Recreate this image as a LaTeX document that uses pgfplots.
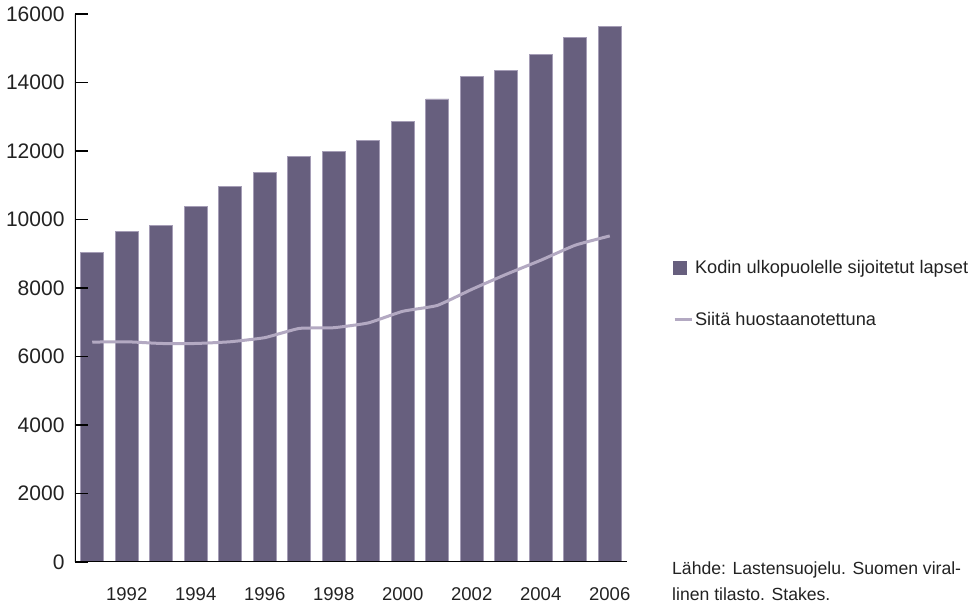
\documentclass[border=0pt]{standalone}
\usepackage{fontspec}
\setmainfont{Liberation Sans}
\usepackage{pgfplots}
\pgfplotsset{compat=1.18}

\definecolor{barcol}{HTML}{675F7E}
\definecolor{baredge}{HTML}{A59DB6}
\definecolor{linecol}{HTML}{B3A9C2}
\definecolor{txt}{HTML}{222222}

\begin{document}
\begin{tikzpicture}
\begin{axis}[
    scale only axis,
    width=552pt, height=548pt,
    xmin=1990.5, xmax=2006.5,
    ymin=0, ymax=16000,
    axis on top,
    axis line style={draw=none},
    xtick={1992,1994,...,2006},
    ytick={0,2000,...,16000},
    ytick pos=left,
    xtick style={draw=none},
    ytick style={line width=1.6pt, black},
    tick align=inside,
    major tick length=13pt,
    /pgf/number format/1000 sep={},
    /pgf/number format/assume math mode=true,
    scaled y ticks=false,
    yticklabel style={font=\fontsize{21}{22}\selectfont, text=txt, xshift=-7pt},
    xticklabel style={font=\fontsize{18.5}{20}\selectfont, text=txt, yshift=-22pt},
    legend cell align=left,
    legend style={draw=none, fill=none, at={(1.083,0.554)}, anchor=north west,
        font=\fontsize{18.2}{20}\selectfont, text=txt,
        row sep=33pt, inner sep=0pt},
]
\addplot[ybar, bar width=23pt, fill=barcol, draw=baredge, line width=0.6pt,
    legend image code/.code={\fill[barcol] (0pt,-6.5pt) rectangle (13pt,6.5pt);}]
    table[row sep=\\] {
    x y \\
    1991 9030 \\
    1992 9650 \\
    1993 9825 \\
    1994 10380 \\
    1995 10960 \\
    1996 11380 \\
    1997 11840 \\
    1998 11985 \\
    1999 12300 \\
    2000 12860 \\
    2001 13520 \\
    2002 14175 \\
    2003 14360 \\
    2004 14820 \\
    2005 15310 \\
    2006 15635 \\
    };
\addlegendentry{Kodin ulkopuolelle sijoitetut lapset}
\addplot[linecol, line width=3pt, line join=round, smooth, tension=0.25,
    legend image code/.code={\draw[linecol, line width=3pt] (1pt,0pt) -- (18pt,0pt);}]
    table[row sep=\\] {
    x y \\
    1991 6420 \\
    1992 6430 \\
    1993 6380 \\
    1994 6380 \\
    1995 6430 \\
    1996 6550 \\
    1997 6820 \\
    1998 6840 \\
    1999 6980 \\
    2000 7320 \\
    2001 7490 \\
    2002 7960 \\
    2003 8400 \\
    2004 8810 \\
    2005 9250 \\
    2006 9520 \\
    };
\addlegendentry{Siitä huostaanotettuna}
\draw[line width=1.6pt, black] (axis cs:1990.5,16000) -- (axis cs:1990.5,0) -- (axis cs:2006.5,0);
\end{axis}
\node[anchor=base west, inner sep=0pt, font=\fontsize{17.6}{20}\selectfont, text=txt]
    at (597pt,-13pt) {Lähde: Lastensuojelu. Suomen viral-};
\node[anchor=base west, inner sep=0pt, font=\fontsize{17.6}{20}\selectfont, text=txt]
    at (597pt,-39pt) {linen tilasto. Stakes.};
\pgfresetboundingbox
\path[use as bounding box] (-75pt,-42pt) rectangle (903pt,562pt);
\end{tikzpicture}
\end{document}
